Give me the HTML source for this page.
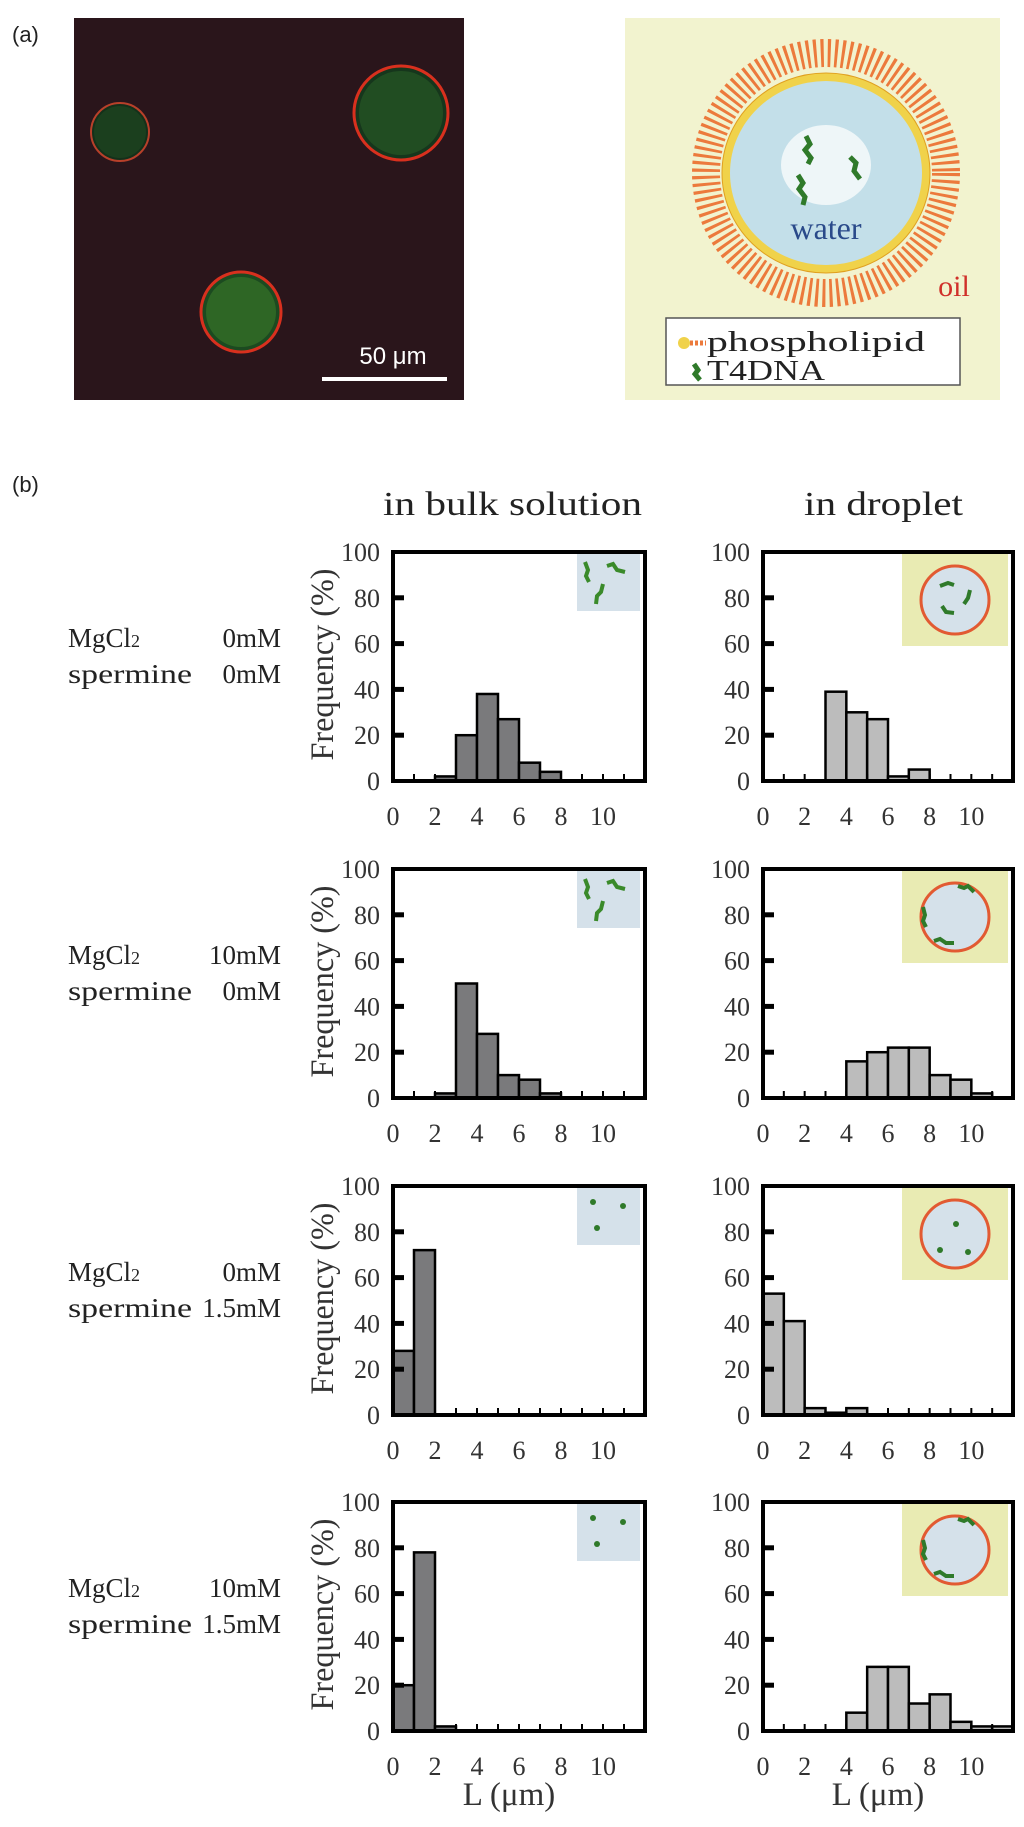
<!DOCTYPE html>
<html><head><meta charset="utf-8"><style>
html,body{margin:0;padding:0;background:#fff;}
body{width:1024px;height:1827px;position:relative;overflow:hidden;font-family:"Liberation Serif",serif;}
svg{position:absolute;left:0;top:0;}
</style></head><body>
<svg id="fig" width="1024" height="1827" viewBox="0 0 1024 1827" xmlns="http://www.w3.org/2000/svg">
  <text x="12" y="42" font-family="Liberation Sans, sans-serif" font-size="22" fill="#222">(a)</text>
  <g>
    <rect x="74" y="18" width="390" height="382" fill="#2a151b"/>
    <circle cx="120" cy="132" r="29" fill="#14301a" stroke="#b8402a" stroke-width="2"/>
    <circle cx="120" cy="132" r="26" fill="#1f4a22" opacity="0.6"/>
    <circle cx="401" cy="113" r="47" fill="#16361c" stroke="#d8301e" stroke-width="3"/>
    <circle cx="401" cy="113" r="42" fill="#2a5e26" opacity="0.6"/>
    <circle cx="241" cy="312" r="40" fill="#1c4a20" stroke="#d8301e" stroke-width="3"/>
    <circle cx="241" cy="312" r="35" fill="#3a7a2a" opacity="0.6"/>
    <line x1="322" y1="379" x2="447" y2="379" stroke="#fff" stroke-width="4"/>
    <text x="393" y="364" text-anchor="middle" font-family="Liberation Sans, sans-serif" font-size="24" fill="#fff">50 μm</text>
  </g>
  <g>
    <rect x="625" y="18" width="375" height="382" fill="#f2f3cf"/>
    <ellipse cx="826" cy="173" rx="120" ry="120" fill="none" stroke="#ec7a3c" stroke-width="28" stroke-dasharray="3 4"/>
    <ellipse cx="826" cy="173" rx="104" ry="100" fill="#f0d24a" stroke="#e0a020" stroke-width="1"/>
    <ellipse cx="826" cy="173" rx="96" ry="92" fill="#c3dfe9"/>
    <ellipse cx="826" cy="165" rx="45" ry="40" fill="#eef6f8"/>
    <path d="M806 136 l4 8 -5 6 6 8 -3 6" stroke="#2f7a2a" stroke-width="5" fill="none"/>
    <path d="M850 157 l6 6 -2 8 6 8" stroke="#2f7a2a" stroke-width="5" fill="none"/>
    <path d="M798 175 l5 8 -4 6 6 8 -2 8" stroke="#2f7a2a" stroke-width="5" fill="none"/>
    <text x="826" y="239" text-anchor="middle" font-size="32" fill="#2a4a8a">water</text>
    <text x="954" y="296" text-anchor="middle" font-size="30" fill="#d0302a">oil</text>
    <g>
      <rect x="666" y="318" width="294" height="67" fill="#fff" stroke="#555" stroke-width="1.5"/>
      <circle cx="684" cy="343" r="6" fill="#f0d24a"/>
      <path d="M690 343 h16" stroke="#ec7a3c" stroke-width="5" stroke-dasharray="3 2"/>
      <text x="707" y="351" font-size="28" fill="#222" textLength="218" lengthAdjust="spacingAndGlyphs">phospholipid</text>
      <path d="M694 364 l4 6 -3 4 5 6" stroke="#2f7a2a" stroke-width="5" fill="none"/>
      <text x="707" y="380" font-size="28" fill="#222" textLength="118" lengthAdjust="spacingAndGlyphs">T4DNA</text>
    </g>
  </g>
  <text x="12" y="492" font-family="Liberation Sans, sans-serif" font-size="22" fill="#222">(b)</text>
  <text x="383" y="515" font-size="34" fill="#222" textLength="259" lengthAdjust="spacingAndGlyphs">in bulk solution</text>
  <text x="804" y="515" font-size="34" fill="#222" textLength="159" lengthAdjust="spacingAndGlyphs">in droplet</text>
  <g id="charts"></g>
</svg>
<script>
const binStarts = [0,1,2,3,4,5,6,7,8,9,10,11];
const xTickLabels = [0,2,4,6,8,10];
const yTickLabels = [0,20,40,60,80,100];
const bulk0 = [0,0,2,20,38,27,8,4,0,0,0,0];
const drop0 = [0,0,0,39,30,27,2,5,0,0,0,0];
const bulk1 = [0,0,2,50,28,10,8,2,0,0,0,0];
const drop1 = [0,0,0,0,16,20,22,22,10,8,2,0];
const bulk2 = [28,72,0,0,0,0,0,0,0,0,0,0];
const drop2 = [53,41,3,1,3,0,0,0,0,0,0,0];
const bulk3 = [20,78,2,0,0,0,0,0,0,0,0,0];
const drop3 = [0,0,0,0,8,28,28,12,16,4,2,2];
const rowLabels = [["0mM","0mM"],["10mM","0mM"],["0mM","1.5mM"],["10mM","1.5mM"]];

const NS = "http://www.w3.org/2000/svg";
const root = document.getElementById('charts');
function mk(tag, attrs, parent){ const e=document.createElementNS(NS,tag); for(const k in attrs) e.setAttribute(k,attrs[k]); parent.appendChild(e); return e; }

const rowTops = [552,869,1186,1502];
const H = 229;
const cols = [{x0:393,x1:645,fill:"#7a7a7c",kind:"bulk"},{x0:763,x1:1013,fill:"#bcbcbc",kind:"droplet"}];
const series = [[bulk0,drop0],[bulk1,drop1],[bulk2,drop2],[bulk3,drop3]];

function drawInset(g, c, top, kind, r){
  if(kind==="bulk"){
    const ix=c.x1-68, iy=top+2;
    mk('rect',{x:ix,y:iy,width:63,height:57,fill:"#d5e1ea"},g);
    if(r<2){
      mk('path',{d:`M${ix+8} ${iy+8} l3 8 -2 6 3 6`,stroke:"#3a8a2a","stroke-width":4,fill:"none"},g);
      mk('path',{d:`M${ix+30} ${iy+12} l6 -2 4 6 8 2`,stroke:"#3a8a2a","stroke-width":4,fill:"none"},g);
      mk('path',{d:`M${ix+26} ${iy+30} l-2 8 -4 4 -1 8`,stroke:"#3a8a2a","stroke-width":4,fill:"none"},g);
    } else {
      mk('circle',{cx:ix+16,cy:iy+14,r:3,fill:"#2f7a2a"},g);
      mk('circle',{cx:ix+46,cy:iy+18,r:3,fill:"#2f7a2a"},g);
      mk('circle',{cx:ix+20,cy:iy+40,r:3,fill:"#2f7a2a"},g);
    }
  } else {
    const ix=c.x1-111, iy=top+2;
    mk('rect',{x:ix,y:iy,width:106,height:92,fill:"#e9ebb3"},g);
    mk('ellipse',{cx:ix+53,cy:iy+46,rx:34,ry:34,fill:"#d5e1ea",stroke:"#e25a32","stroke-width":3},g);
    if(r===0){
      mk('path',{d:`M${ix+38} ${iy+32} l8 -3 6 2`,stroke:"#2f7a2a","stroke-width":4,fill:"none"},g);
      mk('path',{d:`M${ix+68} ${iy+36} l-2 8 -4 6`,stroke:"#2f7a2a","stroke-width":4,fill:"none"},g);
      mk('path',{d:`M${ix+40} ${iy+52} l4 6 8 1`,stroke:"#2f7a2a","stroke-width":4,fill:"none"},g);
    } else if(r===2){
      mk('circle',{cx:ix+54,cy:iy+36,r:3,fill:"#2f7a2a"},g);
      mk('circle',{cx:ix+38,cy:iy+62,r:3,fill:"#2f7a2a"},g);
      mk('circle',{cx:ix+66,cy:iy+64,r:3,fill:"#2f7a2a"},g);
    } else {
      mk('path',{d:`M${ix+56} ${iy+15} l6 2 4 -2 6 6`,stroke:"#2f7a2a","stroke-width":4,fill:"none"},g);
      mk('path',{d:`M${ix+21} ${iy+36} l2 8 -2 6 3 6`,stroke:"#2f7a2a","stroke-width":4,fill:"none"},g);
      mk('path',{d:`M${ix+32} ${iy+70} l6 -2 6 4 8 0`,stroke:"#2f7a2a","stroke-width":4,fill:"none"},g);
    }
  }
}

series.forEach((pair, r) => {
  const top = rowTops[r], bottom = top + H;
  const rowG = mk('g',{},root);
  
  
  const lbl = mk('text',{x:68,y:top+95,"font-size":27,fill:"#222"},rowG);
  
  
  const t1 = mk('tspan',{x:68},lbl); t1.textContent = "MgCl";
  const sub = mk('tspan',{"font-size":18},lbl); sub.textContent = "2";
  const t1b = mk('tspan',{x:281,"text-anchor":"end"},lbl); t1b.textContent = rowLabels[r][0];
  const lbl2 = mk('text',{x:68,y:top+131,"font-size":27,fill:"#222"},rowG);
  
  
  const s1 = mk('tspan',{x:68,textLength:124,lengthAdjust:"spacingAndGlyphs"},lbl2); s1.textContent = "spermine";
  const s2 = mk('tspan',{x:281,"text-anchor":"end"},lbl2); s2.textContent = rowLabels[r][1];

  pair.forEach((vals, ci) => {
    const c = cols[ci];
    const xs = v => c.x0 + (v/12)*(c.x1-c.x0);
    const ys = v => bottom - (v/100)*H;
    const g = mk('g',{},rowG);
    
    
    drawInset(g, c, top, c.kind, r);
    vals.forEach((v, i) => {
      if(v<=0) return;
      const b = mk('rect',{x:xs(binStarts[i]),y:ys(v),width:xs(binStarts[i]+1)-xs(binStarts[i]),height:bottom-ys(v),fill:c.fill,stroke:"#000","stroke-width":2.5},g);
      
      
    });
    for(let k=1;k<12;k++){
      mk('line',{x1:xs(k),y1:bottom,x2:xs(k),y2:bottom-7,stroke:"#000","stroke-width":2},g);
    }
    yTickLabels.forEach(t => {
      if(t>0 && t<100) mk('line',{x1:c.x0,y1:ys(t),x2:c.x0+11,y2:ys(t),stroke:"#000","stroke-width":5},g);
      const tl = mk('text',{x:c.x0-13,y:ys(t)+9,"text-anchor":"end","font-size":26,fill:"#333"},g);
      
      
      tl.textContent = t;
    });
    xTickLabels.forEach(t => {
      const tl = mk('text',{x:xs(t),y:bottom+44,"text-anchor":"middle","font-size":26,fill:"#333"},g);
      
      
      tl.textContent = t;
    });
    const box = mk('rect',{x:c.x0,y:top,width:c.x1-c.x0,height:H,fill:"none",stroke:"#000","stroke-width":4},g);
    
    
    if(ci===0){
      const yl = mk('text',{x:0,y:0,transform:`translate(333,${top+H/2-2}) rotate(-90)`,"text-anchor":"middle","font-size":33,fill:"#333",textLength:192,lengthAdjust:"spacingAndGlyphs"},g);
      
      
      yl.textContent = "Frequency (%)";
    }
    if(r===3){
      const xl = mk('text',{x:(c.x0+c.x1)/2-10,y:bottom+74,"text-anchor":"middle","font-size":33,fill:"#333"},g);
      
      
      xl.textContent = "L (μm)";
    }
  });
});
</script>
</body></html>
